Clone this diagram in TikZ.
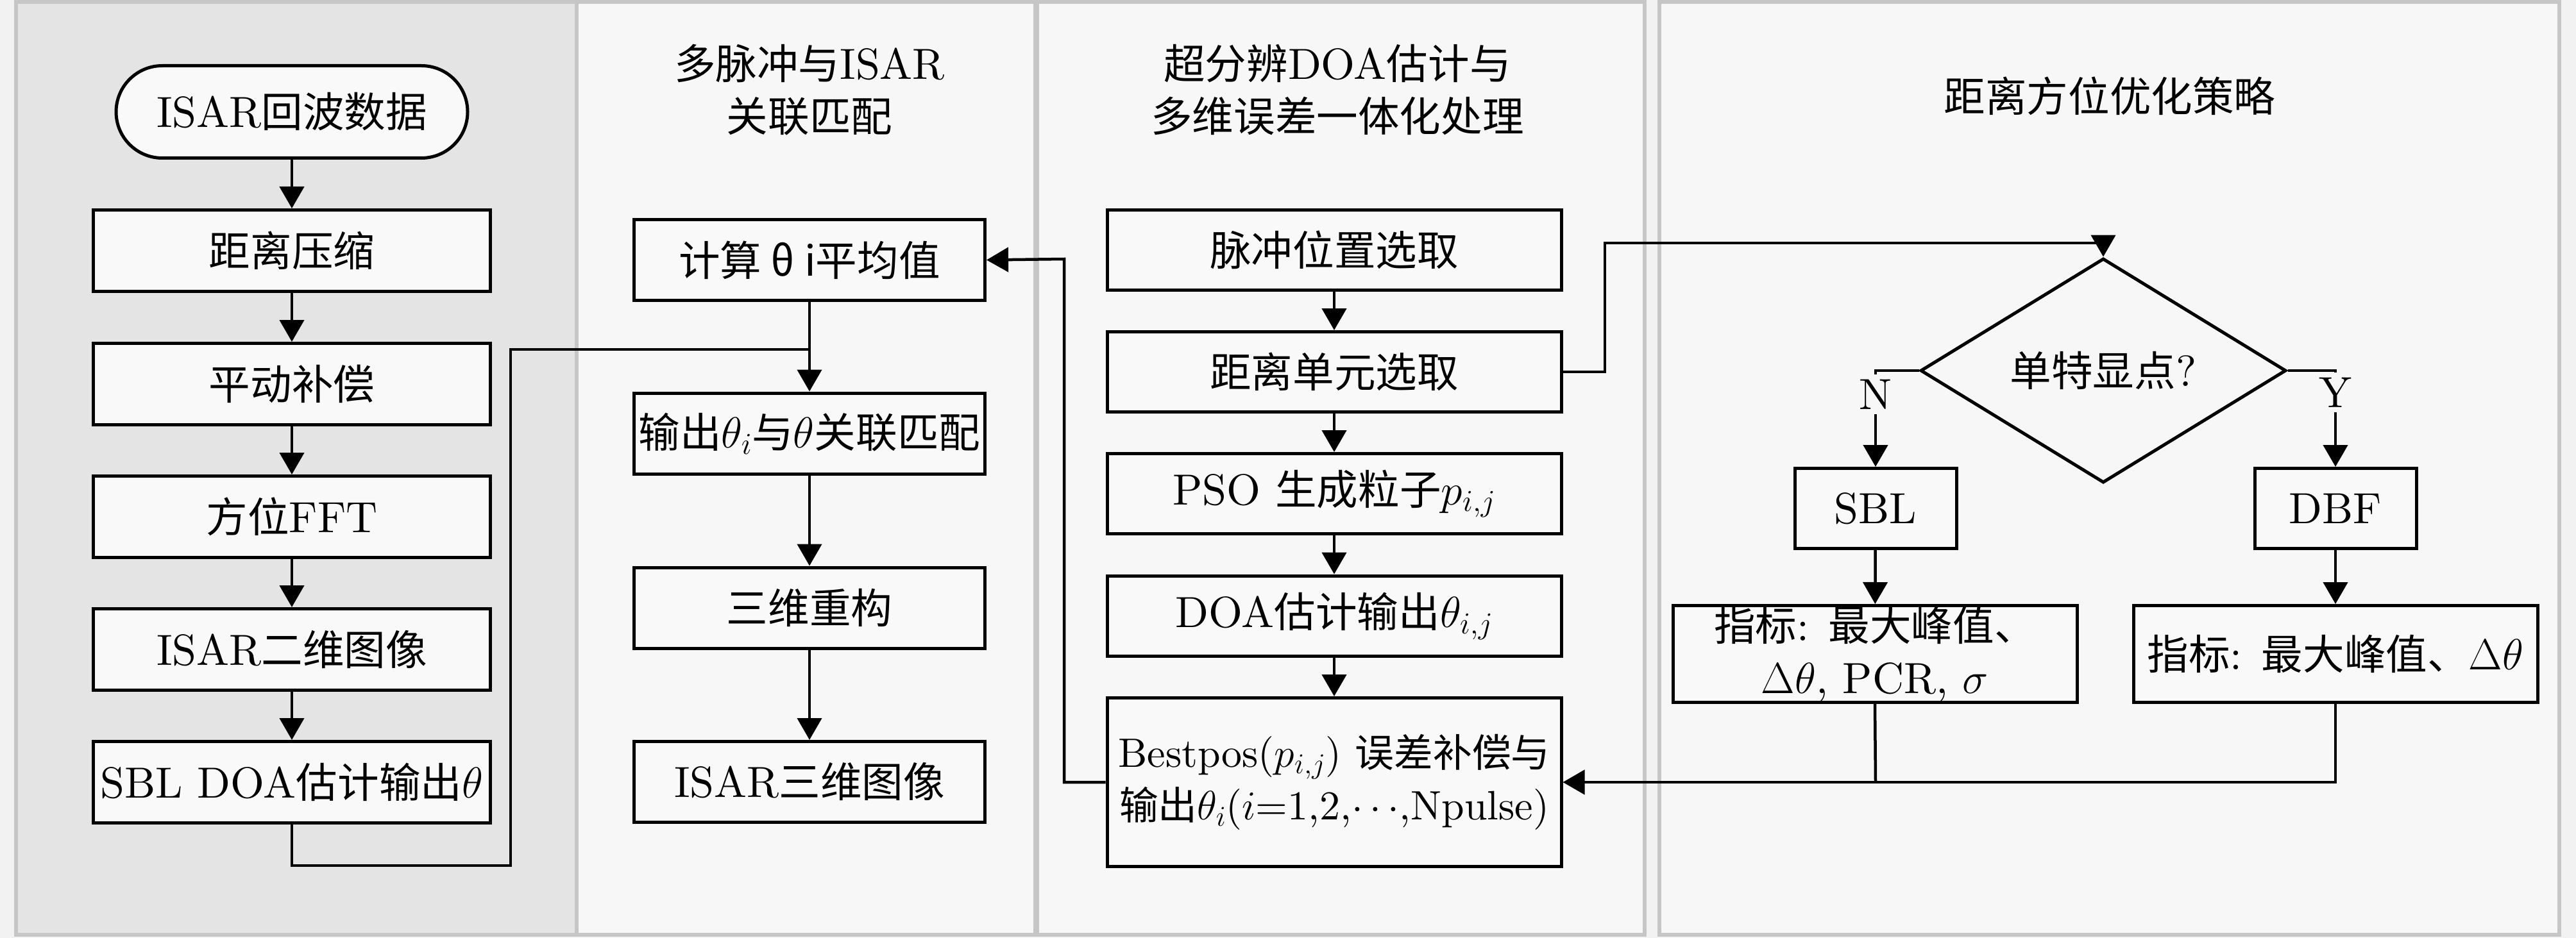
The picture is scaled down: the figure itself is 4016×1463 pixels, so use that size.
\RequirePackage{fix-cm}
\documentclass[tikz,border=0pt]{standalone}
\usepackage{fontspec}
\setmainfont{lmroman10}[Extension=.otf, UprightFont=*-regular, ItalicFont=*-italic, BoldFont=*-bold]
\newfontfamily\cjk{Noto Sans CJK SC}[Scale=0.95]
\usetikzlibrary{arrows.meta,shapes.geometric}
\newcommand\zh[1]{{\cjk #1}}
\definecolor{pagebg}{HTML}{F2F2F2}
\definecolor{panelA}{HTML}{E4E4E4}
\definecolor{panelB}{HTML}{F7F7F7}
\definecolor{boxfill}{HTML}{F9F9F9}
\definecolor{panelline}{HTML}{C6C6C6}
\begin{document}
\begin{tikzpicture}[x=1pt,y=-1pt,
  every node/.style={font=\fontsize{68}{82}\selectfont},
  box/.style={draw, line width=5pt, fill=boxfill, inner sep=0pt, align=center},
  conn/.style={line width=4.5pt},
  arr/.style={conn, -{Triangle[length=34pt,width=38pt]}},
  title/.style={align=center},
  yn/.style={fill=panelB, inner xsep=4pt, inner ysep=8pt},
]
\useasboundingbox (0,0) rectangle (4016,1463);
\fill[pagebg] (0,0) rectangle (4016,1463);
% panels
\draw[panelline, line width=6pt, fill=panelA] (25,3) rectangle (899,1458);
\draw[panelline, line width=6pt, fill=panelB] (899,3) rectangle (1614,1458);
\draw[panelline, line width=6pt, fill=panelB] (1617,3) rectangle (2564,1458);
\draw[panelline, line width=6pt, fill=panelB] (2587,3) rectangle (3990,1458);

% titles
\node[title] (t2) at (1262,140) {\zh{多脉冲与}ISAR\\\zh{关联匹配}};
\node[title] (t3) at (2085,140) {\zh{超分辨}DOA\zh{估计与}\\\zh{多维误差一体化处理}};
\node[title] (t4) at (3289,150) {\zh{距离方位优化策略}};

% column 1
\node[box, rounded corners=72pt, minimum width=548pt, minimum height=144pt] (a0) at (455,174.5) {ISAR\zh{回波数据}};
\tikzset{c1box/.style={box, minimum width=619pt, minimum height=127pt}}
\node[c1box] (a1) at (455,391) {\zh{距离压缩}};
\node[c1box] (a2) at (455,599) {\zh{平动补偿}};
\node[c1box] (a3) at (455,806) {\zh{方位}FFT};
\node[c1box] (a4) at (455,1013) {ISAR\zh{二维图像}};
\node[c1box] (a5) at (455,1220) {SBL DOA\zh{估计输出}$\theta$};

% column 2
\tikzset{c2box/.style={box, minimum width=547pt, minimum height=126pt}}
\node[c2box] (b1) at (1262,405.5) {\zh{计算 θ i平均值}};
\node[c2box] (b2) at (1262,676) {\zh{输出}$\theta_i$\zh{与}$\theta$\zh{关联匹配}};
\node[c2box] (b3) at (1262,948) {\zh{三维重构}};
\node[c2box] (b4) at (1262,1219.5) {ISAR\zh{三维图像}};

% column 3
\tikzset{c3box/.style={box, minimum width=708pt, minimum height=125pt}}
\node[c3box] (d1) at (2080,390) {\zh{脉冲位置选取}};
\node[c3box] (d2) at (2080,580) {\zh{距离单元选取}};
\node[c3box] (d3) at (2080,770) {PSO \zh{生成粒子}$p_{i,j}$};
\node[c3box] (d4) at (2080,960.5) {DOA\zh{估计输出}$\theta_{i,j}$};
\node[c3box, minimum height=263pt, font=\fontsize{64}{82}\selectfont] (d5) at (2080,1220) {Bestpos($p_{i,j}$) \zh{误差补偿与}\\\zh{输出}$\theta_i$($i$=1,2,$\cdots$,Npulse)};

% column 4
\node[draw, diamond, line width=5pt, fill=panelB, inner sep=0pt, minimum width=570pt, minimum height=271pt] (q) at (3279,578) {\zh{单特显点}?};
\tikzset{c4box/.style={box, minimum width=252pt, minimum height=125pt}}
\node[c4box] (s1) at (2924,793) {SBL};
\node[c4box] (s2) at (3641,793) {DBF};
\tikzset{c5box/.style={box, minimum width=630pt, minimum height=151pt}}
\node[c5box] (m1) at (2923,1020) {\zh{指标}: \zh{最大峰值、}\\$\Delta\theta$, PCR, $\sigma$};
\node[c5box] (m2) at (3641,1020) {\zh{指标}: \zh{最大峰值、}$\Delta\theta$};

% coordinates
\coordinate (l1) at (455,1350);
\coordinate (l2) at (796,1350);
\coordinate (l3) at (796,545);
\coordinate (j1) at (1262,545);
\coordinate (r1) at (1659,1220);
\coordinate (r2) at (1659,404);
\coordinate (u1) at (2502,580);
\coordinate (u2) at (2502,379);
\coordinate (u3) at (3279,379);
\coordinate (n1) at (2924,578);
\coordinate (y1) at (3641,578);
\coordinate (k1) at (2924,1220);
\coordinate (k2) at (3641,1220);

% connectors column 1
\draw[arr] (a0) -- (a1);
\draw[arr] (a1) -- (a2);
\draw[arr] (a2) -- (a3);
\draw[arr] (a3) -- (a4);
\draw[arr] (a4) -- (a5);
\draw[conn] (a5.south) -- (l1) -- (l2) -- (l3) -- (j1);
% column 2
\draw[arr] (b1) -- (b2);
\draw[arr] (b2) -- (b3);
\draw[arr] (b3) -- (b4);
% column 3
\draw[arr] (d1) -- (d2);
\draw[arr] (d2) -- (d3);
\draw[arr] (d3) -- (d4);
\draw[arr] (d4) -- (d5);
\draw[arr] (d5.west) -- (r1) -- (r2) -- (b1.east);
\draw[arr] (d2.east) -- (u1) -- (u2) -- (u3) -- (q.north);
% column 4
\draw[arr] (q.west) -- (n1) -- (s1.north);
\draw[arr] (q.east) -- (y1) -- (s2.north);
\draw[arr] (s1) -- (m1);
\draw[arr] (s2) -- (m2);
\draw[conn] (m1.south) -- (k1);
\draw[arr] (m2.south) -- (k2) -- (d5.east);
\node[yn] (nlab) at (2924,615) {N};
\node[yn] (ylab) at (3641,612) {Y};
\end{tikzpicture}
\end{document}
